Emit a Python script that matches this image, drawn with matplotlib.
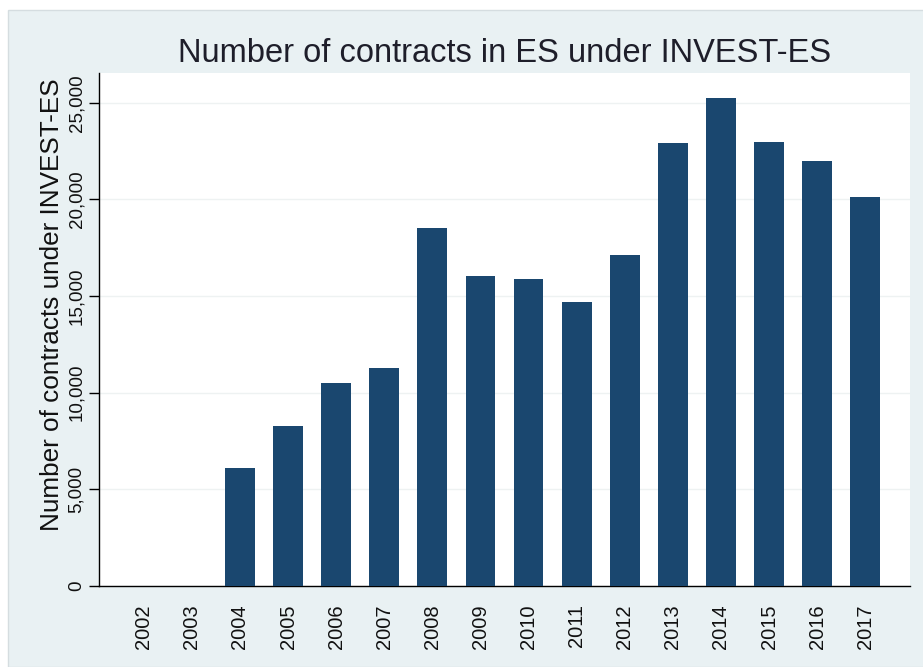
import matplotlib.pyplot as plt
from matplotlib.patches import Rectangle

years = ['2002', '2003', '2004', '2005', '2006', '2007', '2008', '2009',
         '2010', '2011', '2012', '2013', '2014', '2015', '2016', '2017']
contracts = [0, 0, 6100, 8300, 10500, 11300, 18500, 16050,
             15900, 14700, 17100, 22900, 25250, 22950, 22000, 20100]
yticks = [0, 5000, 10000, 15000, 20000, 25000]

plt.rcParams['font.family'] = ['Liberation Sans', 'DejaVu Sans']

fig = plt.figure(figsize=(9.23, 6.67), dpi=100)
fig.patch.set_facecolor('white')
fig.patches.append(Rectangle((8 / 923, 0), 1, 1 - 10 / 667, transform=fig.transFigure,
                             facecolor='#e9f1f3', edgecolor='#d5dde0', zorder=-10))

ax = fig.add_axes([99 / 923, 1 - 586 / 667, 811 / 923, 513 / 667])
ax.set_facecolor('white')

x = range(len(years))
ax.bar(x, contracts, width=0.62, color='#1a476f', zorder=3)

ax.set_xlim(-0.93, 15.93)
ax.set_ylim(0, 26540)
ax.set_xticks(list(x))
ax.set_xticklabels(years, rotation=90, fontsize=14.5, color='#111111')
ax.set_yticks(yticks)
ax.set_yticklabels([f'{v:,}' for v in yticks], rotation=90, va='center',
                   fontsize=13.5, color='#111111')
ax.tick_params(axis='x', length=0, pad=13)
ax.tick_params(axis='y', length=7, width=1, pad=3)

ax.grid(axis='y', color='#eef2f2', linewidth=1, zorder=0)
for side in ['top', 'right']:
    ax.spines[side].set_visible(False)
ax.spines['left'].set_linewidth(1)
ax.spines['bottom'].set_linewidth(1)

ax.set_ylabel('Number of contracts under INVEST-ES', fontsize=18.8, color='#111111')
ax.yaxis.set_label_coords(-35 / 811, (586 - 305) / 513)
fig.text(505 / 923, 1 - 54 / 667, 'Number of contracts in ES under INVEST-ES',
         ha='center', va='center', fontsize=23.5, color='#1e1e2a')

fig.savefig('out.png', dpi=100)
